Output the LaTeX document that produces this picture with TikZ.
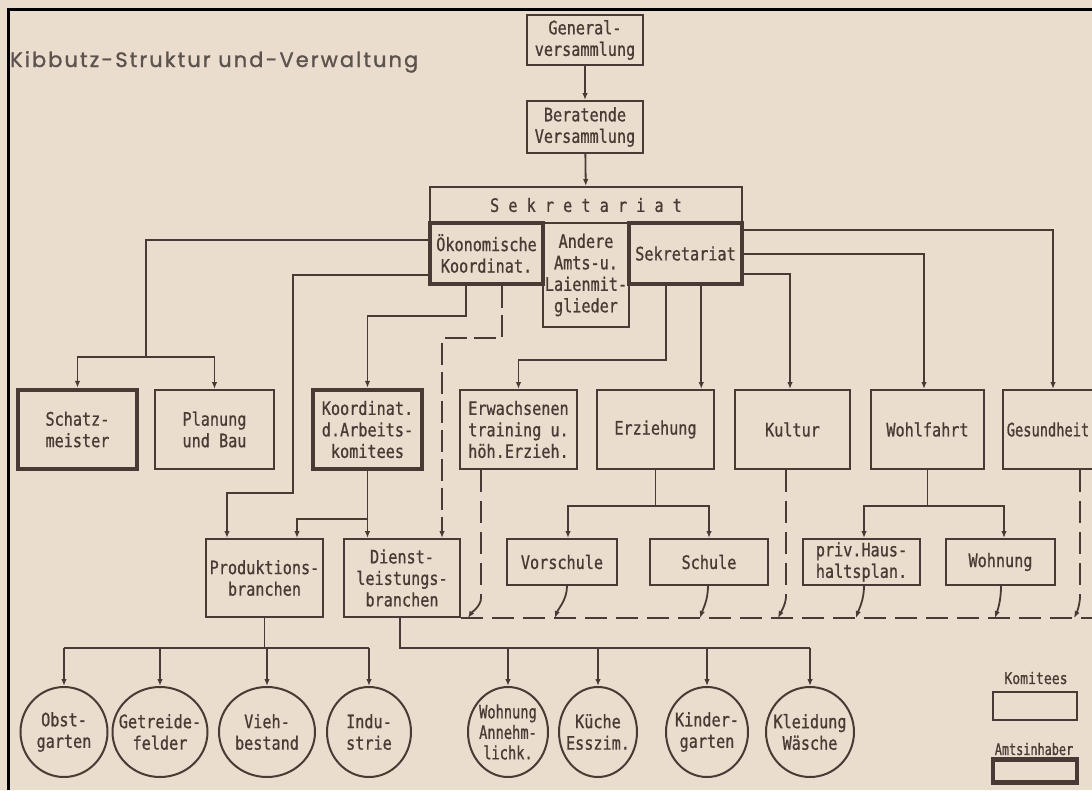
\documentclass[tikz,border=0pt]{standalone}
\usepackage{fontspec}
\usetikzlibrary{arrows.meta,shapes.geometric,calc}
\newfontfamily\lettering[FakeStretch=0.82,FakeBold=0.8]{DejaVu Sans Mono}
\newfontfamily\narrowlettering[FakeStretch=0.74,FakeBold=0.8]{DejaVu Sans Mono}
\newfontfamily\titlefont[LetterSpace=10,FakeBold=1.2]{Poppins}
\definecolor{paper}{RGB}{235,221,205}
\definecolor{ink}{RGB}{72,59,53}
\definecolor{titleink}{RGB}{92,82,78}
\begin{document}
\begin{tikzpicture}[x=1pt,y=-1pt,
  every node/.style={font=\lettering\fontsize{18.5}{21.5}\selectfont, text=ink, align=center},
  box/.style={draw=ink, line width=2pt, rectangle, inner sep=0pt},
  thickbox/.style={box, line width=4.5pt},
  circ/.style={draw=ink, line width=2pt, ellipse, inner sep=0pt, minimum height=90pt},
  legendtext/.style={font=\lettering\fontsize{16}{18}\selectfont},
  conn/.style={draw=ink, line width=1.8pt},
  arr/.style={conn, -{Latex[length=7pt,width=5.5pt]}},
  dline/.style={conn, dash pattern=on 22pt off 9pt},
]
\useasboundingbox (0,0) rectangle (1092,790);
\clip (0,0) rectangle (1092,790);
\fill[paper] (0,0) rectangle (1092,790);
\draw[black, line width=3pt] (8.5,790) -- (8.5,9.5) -- (1092,9.5);

\node[inner sep=0pt, anchor=base west, text=titleink, font=\titlefont\fontsize{18}{20}\selectfont] (title) at (10,67)
  {\resizebox{408pt}{!}{Kibbutz\kern2pt-\kern2pt Struktur und\kern2pt-\kern2pt Verwaltung}};

% top
\node[box, minimum width=116pt, minimum height=50pt] (gen) at (585,40) {General-\\versammlung};
\node[box, minimum width=116pt, minimum height=52pt] (ber) at (585,127) {Beratende\\Versammlung};
\node[box, minimum width=312pt, minimum height=36pt] (sek) at (586,205) {S e k r e t a r i a t};
\node[box, minimum width=86pt, minimum height=104pt] (and) at (586,275) {Andere\\Amts-u.\\Laienmit-\\glieder};
\node[thickbox, minimum width=113pt, minimum height=61pt] (oek) at (486.5,253.5) {Ökonomische\\Koordinat.};
\node[thickbox, minimum width=113pt, minimum height=61pt] (sks) at (685.5,253.5) {Sekretariat};

% row 2
\node[thickbox, minimum width=119pt, minimum height=79pt] (schatz) at (77.5,429.5) {Schatz-\\meister};
\node[box, minimum width=119pt, minimum height=79pt] (plan) at (214.5,429.5) {Planung\\und Bau};
\node[thickbox, minimum width=109pt, minimum height=79pt] (koord) at (367.5,429.5) {Koordinat.\\d.Arbeits-\\komitees};
\node[box, minimum width=117pt, minimum height=79pt] (erw) at (518.5,429.5) {Erwachsenen\\training u.\\höh.Erzieh.};
\node[box, minimum width=117pt, minimum height=79pt] (erz) at (655.5,429.5) {Erziehung};
\node[box, minimum width=115pt, minimum height=79pt] (kul) at (792.5,429.5) {Kultur};
\node[box, minimum width=113pt, minimum height=79pt] (wohl) at (927.5,429.5) {Wohlfahrt};
\node[box, minimum width=108pt, minimum height=79pt] (ges) at (1057,429.5) {};
\node[font=\narrowlettering\fontsize{18.5}{21.5}\selectfont] (gest) at (1048,429.5) {Gesundheit};

% row 3
\node[box, minimum width=117pt, minimum height=78pt] (prod) at (264.5,578) {Produktions-\\branchen};
\node[box, minimum width=116pt, minimum height=78pt] (dien) at (402,578) {Dienst-\\leistungs-\\branchen};
\node[box, minimum width=110pt, minimum height=46pt] (vor) at (562,562) {Vorschule};
\node[box, minimum width=118pt, minimum height=46pt] (sch) at (709,562) {Schule};
\node[box, minimum width=117pt, minimum height=46pt] (priv) at (861.5,562) {priv.Haus-\\haltsplan.};
\node[box, minimum width=109pt, minimum height=46pt] (wohn) at (1000.5,562) {Wohnung};

% circles
\node[circ, minimum width=87pt] (obst) at (64,732) {};
\node (obstt) at (obst) {Obst-\\garten};
\node[circ, minimum width=95pt] (getr) at (160,732) {};
\node (getrt) at (getr) {Getreide-\\felder};
\node[circ, minimum width=96pt] (vieh) at (267,732) {};
\node (vieht) at (vieh) {Vieh-\\bestand};
\node[circ, minimum width=84pt] (indu) at (369,732) {};
\node (indut) at (indu) {Indu-\\strie};
\node[circ, minimum width=80pt] (woha) at (508,732) {};
\node[font=\narrowlettering\fontsize{18.5}{20.5}\selectfont] (woht) at (woha) {Wohnung\\Annehm-\\lichk.};
\node[circ, minimum width=78pt] (kue) at (598,732) {};
\node (kuet) at (kue) {Küche\\Esszim.};
\node[circ, minimum width=82pt] (kind) at (707,732) {};
\node (kindt) at (kind) {Kinder-\\garten};
\node[circ, minimum width=88pt] (klei) at (810,732) {};
\node (kleit) at (klei) {Kleidung\\Wäsche};

% legend
\node[legendtext] (lk) at (1036,678) {Komitees};
\node[box, minimum width=84pt, minimum height=28pt] (lkb) at (1035,706) {};
\node[legendtext, font=\narrowlettering\fontsize{16}{18}\selectfont] (la) at (1034,749) {Amtsinhaber};
\node[thickbox, minimum width=84pt, minimum height=23pt] (lab) at (1035,771) {};

% connectors top
\draw[arr] (gen) -- (ber);
\draw[arr] (ber) -- (sek);

% Oekonomische
\coordinate (j1) at (146,357);
\draw[conn] ($(oek.north west)+(0,19)$) -| (j1);
\draw[arr] (j1) -| (schatz.north);
\draw[arr] (j1) -| (plan.north);
\draw[arr] ($(oek.north west)+(0,54)$) -| (293,493) -| ($(prod.north west)+(22,0)$);
\draw[arr] ($(oek.south west)+(38,0)$) -- ++(0,30) -| (koord.north);
\draw[arr, dash pattern=on 22pt off 7pt] ($(oek.south west)+(74,0)$) -- ++(0,52) -| ($(dien.north)+(40,0)$);

\coordinate (kb) at ($(koord.south)+(0,48)$);
\draw[conn] (koord.south) -- (kb);
\draw[arr] (kb) -- (kb |- dien.north);
\draw[arr] (kb) -| ($(prod.north west)+(92,0)$);

% Sekretariat
\draw[arr] ($(sks.north east)+(0,9)$) -| ($(ges.north)+(-4,0)$);
\draw[arr] ($(sks.north east)+(0,33)$) -| ($(wohl.north)+(-3.5,0)$);
\draw[arr] ($(sks.north east)+(0,53)$) -| ($(kul.north)+(-2.5,0)$);
\draw[arr] ($(sks.south west)+(39,0)$) -- ++(0,74) -| (erw.north);
\coordinate (s2) at ($(sks.south west)+(74.5,0)$);
\draw[arr] (s2) -- (s2 |- erz.north);

\coordinate (eb) at ($(erz.south)+(0,36)$);
\draw[conn] (erz.south) -- (eb);
\draw[arr] (eb) -| ($(vor.north)+(6,0)$);
\draw[arr] (eb) -| (sch.north);

\coordinate (wb) at ($(wohl.south)+(0,36)$);
\draw[conn] (wohl.south) -- (wb);
\draw[arr] (wb) -| ($(priv.north)+(2.5,0)$);
\draw[arr] (wb) -| ($(wohn.north)+(3.5,0)$);

% dashed collector line
\coordinate (dl) at (dien.south east);
\coordinate (dend) at (1092,618);
\draw[dline] (dl) -- (dend);

\draw[dline] ($(erw.south west)+(22,0)$) -- ++(0,128) coordinate (e2);
\draw[arr] (e2) .. controls +(0,8) and +(4,-6) .. ($(dl)+(7,0)$);
\draw[arr] ($(vor.south)+(5,0)$) .. controls +(0,14) and +(3,-9) .. ($(dl)+(94,0)$);
\draw[arr] ($(sch.south)+(-1,0)$) .. controls +(0,14) and +(3,-9) .. ($(dl)+(239,0)$);
\draw[dline] ($(kul.south)+(-6.5,0)$) -- ++(0,126) coordinate (k2);
\draw[arr] (k2) .. controls +(0,8) and +(3,-6) .. ($(dl)+(317,0)$);
\draw[arr] ($(priv.south)+(2.5,0)$) .. controls +(0,14) and +(3,-9) .. ($(dl)+(395,0)$);
\draw[arr] ($(wohn.south)+(0.5,0)$) .. controls +(0,14) and +(3,-9) .. ($(dl)+(534,0)$);
\draw[dline] ($(ges.south)+(23,0)$) -- ++(0,126) coordinate (g2);
\draw[arr] (g2) .. controls +(0,8) and +(3,-6) .. ($(dl)+(613,0)$);

% circles branches
\coordinate (pb) at ($(prod.south)+(0,30)$);
\draw[conn] (prod.south) -- (pb);
\draw[conn] (pb -| obst.north) -- (pb -| indu.north);
\draw[arr] (pb -| obst.north) -- (obst.north);
\draw[arr] (pb -| getr.north) -- (getr.north);
\draw[arr] (pb -| vieh.north) -- (vieh.north);
\draw[arr] (pb -| indu.north) -- (indu.north);

\coordinate (dtop) at ($(dien.south)+(-2,0)$);
\coordinate (db) at ($(dtop)+(0,30)$);
\draw[conn] (dtop) -- (db) -- (db -| klei.north);
\draw[arr] (db -| woha.north) -- (woha.north);
\draw[arr] (db -| kue.north) -- (kue.north);
\draw[arr] (db -| kind.north) -- (kind.north);
\draw[arr] (db -| klei.north) -- (klei.north);
\end{tikzpicture}
\end{document}
